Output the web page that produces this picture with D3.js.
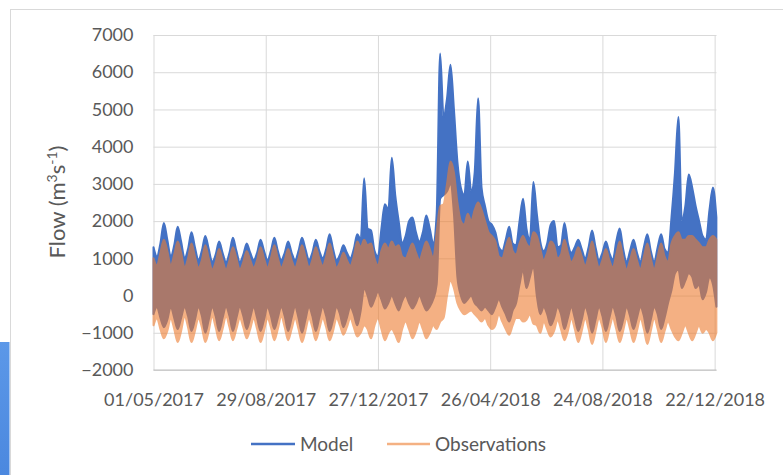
<!DOCTYPE html>
<html>
<head>
<meta charset="utf-8">
<script src="https://cdn.jsdelivr.net/npm/d3@7"></script>
<style>
  html, body { margin: 0; padding: 0; background: #ffffff; }
  svg { display: block; }
  text { font-family: Lato, "Open Sans", "DejaVu Sans", sans-serif; fill: #595959; }
</style>
</head>
<body>
<svg id="chart" width="783" height="475"></svg>
<script>
// Tidal flow: per-sample envelope (max / min) of the hourly series,
// one sample every quarter spring–neap cycle starting 01/05/2017.
const startDate = "2017-05-01";
const endDate = "2018-12-24";
const sampleStepDays = 3.6925;

const modelHigh = [
  1300,1050,1400,1950,1500,1050,1350,1850,1450,1000,
  1250,1700,1300,950,1200,1600,1250,900,1100,1450,
  1150,900,1150,1550,1200,900,1100,1400,1150,950,
  1150,1500,1200,950,1200,1550,1200,950,1150,1450,
  1150,950,1200,1550,1250,950,1150,1500,1200,1000,
  1250,1650,1250,950,1100,1350,1150,1000,1250,1650,
  1500,3150,1800,1750,1200,1050,1800,2450,2300,3700,
  2700,2000,1400,1600,2000,2100,1700,1450,1700,2150,
  1800,1400,2200,6500,4800,5300,6200,5000,3600,2900,
  2700,3600,2800,3300,5300,2900,2400,2000,1900,1700,
  1300,1200,1500,1850,1400,1350,2000,2600,1800,1500,
  3050,2200,1450,1200,1400,1900,2000,1300,1350,1950,
  1400,1150,1300,1500,1250,1000,1300,1750,1300,950,
  1150,1450,1150,950,1450,1800,1250,900,1200,1500,
  1150,900,1300,1650,1200,900,1300,1650,1250,1150,
  2100,3300,4800,2000,2400,3250,2900,2400,2000,1600,
  1500,2300,2900,2100
];

const modelLow = [
  -500,-300,-600,-850,-650,-300,-600,-900,-600,-300,
  -550,-950,-650,-300,-550,-1000,-650,-300,-550,-950,
  -600,-300,-550,-950,-600,-300,-550,-900,-600,-300,
  -600,-950,-650,-300,-550,-900,-600,-300,-550,-950,
  -600,-300,-600,-1000,-650,-300,-550,-950,-600,-300,
  -550,-950,-650,-300,-500,-850,-600,-300,-500,-800,
  -400,200,0,-300,-100,100,-100,-350,-200,0,
  -200,-400,-150,0,-200,-350,-200,0,-200,-400,
  -300,-100,300,2600,2700,2800,3000,2200,500,0,
  -200,-100,0,-200,-300,-400,-300,-400,-500,-300,
  -100,-300,-500,-700,-400,-200,300,700,200,500,
  800,0,-500,-300,-500,-800,-600,-300,-500,-900,
  -600,-300,-600,-950,-650,-300,-550,-1000,-650,-300,
  -550,-950,-600,-300,-550,-950,-650,-300,-550,-900,
  -600,-300,-550,-1000,-650,-300,-500,-900,-600,-200,
  150,600,700,200,400,600,500,200,300,-100,
  100,500,300,-300
];

const obsHigh = [
  1000,800,1150,1500,1200,800,1100,1450,1150,750,
  1000,1400,1050,750,950,1350,1000,700,900,1250,
  950,700,950,1300,1000,700,900,1200,950,750,
  950,1300,1000,750,1000,1350,1000,750,950,1250,
  950,750,1000,1350,1050,750,950,1300,1000,800,
  1050,1400,1050,750,900,1150,950,800,1050,1450,
  1300,1500,1350,1400,1000,800,1200,1400,1250,1450,
  1300,1350,1050,1000,1200,1400,1150,950,1200,1450,
  1250,1000,1700,2400,2450,3000,3600,3300,2500,2000,
  1900,2200,2000,2300,2500,2300,2000,1700,1600,1450,
  1050,1000,1300,1550,1200,1100,1400,1600,1400,1300,
  1700,1600,1250,950,1150,1450,1350,1000,1100,1500,
  1150,900,1050,1300,1050,800,1050,1450,1050,750,
  950,1250,950,750,1100,1450,1000,700,950,1250,
  950,700,1050,1400,1000,700,1050,1400,1050,900,
  1400,1600,1700,1500,1500,1600,1600,1500,1400,1300,
  1300,1500,1600,1500
];

const obsLow = [
  -800,-600,-900,-1150,-950,-600,-900,-1250,-950,-550,
  -850,-1250,-950,-600,-850,-1250,-950,-550,-850,-1200,
  -900,-550,-850,-1200,-900,-600,-850,-1150,-900,-600,
  -900,-1250,-950,-600,-850,-1200,-900,-550,-850,-1200,
  -900,-600,-900,-1250,-950,-600,-850,-1200,-900,-600,
  -850,-1200,-950,-600,-800,-1050,-850,-600,-850,-1100,
  -1000,-800,-900,-1150,-800,-600,-900,-1200,-1000,-900,
  -1050,-1250,-900,-700,-900,-1150,-950,-700,-900,-1150,
  -1000,-800,-900,-700,-600,0,400,200,-200,-400,
  -500,-450,-400,-500,-600,-700,-600,-800,-900,-800,
  -500,-700,-900,-1050,-800,-600,-600,-700,-650,-500,
  -750,-800,-1000,-700,-900,-1100,-950,-650,-900,-1200,
  -950,-600,-900,-1250,-950,-600,-900,-1300,-950,-600,
  -850,-1250,-900,-600,-900,-1250,-950,-600,-900,-1250,
  -950,-600,-900,-1300,-950,-600,-900,-1250,-950,-700,
  -900,-1100,-1200,-1000,-800,-1000,-1200,-1000,-800,-1000,
  -900,-1000,-1200,-1000
];

const seriesNames = ["Model", "Observations"];
const seriesColors = ["#4472C4", "#ED7D31"];
const xTickDates = ["2017-05-01", "2017-08-29", "2017-12-27", "2018-04-26", "2018-08-24", "2018-12-22"];
const yTickValues = [-2000, -1000, 0, 1000, 2000, 3000, 4000, 5000, 6000, 7000];

const parseDate = d3.utcParse("%Y-%m-%d");
const formatDate = d3.utcFormat("%d/%m/%Y");
const dayMs = 86400000;
const t0 = parseDate(startDate).getTime();

const samples = modelHigh.map((v, i) => ({
  date: new Date(t0 + i * sampleStepDays * dayMs),
  mHi: v, mLo: modelLow[i], oHi: obsHigh[i], oLo: obsLow[i]
}));

const svg = d3.select("#chart");
const plot = { left: 153.5, right: 716.5, top: 35, bottom: 370 };

const x = d3.scaleUtc()
  .domain([parseDate(startDate), parseDate(endDate)])
  .range([plot.left, plot.right]);
const y = d3.scaleLinear()
  .domain([-2000, 7000])
  .range([plot.bottom, plot.top]);

// decoration at the lower left corner and the chart frame
const defs = svg.append("defs");
const grad = defs.append("linearGradient").attr("id", "edgeBlue")
  .attr("x1", 0).attr("y1", 0).attr("x2", 0).attr("y2", 1);
grad.append("stop").attr("offset", 0).attr("stop-color", "#5c98e8");
grad.append("stop").attr("offset", 1).attr("stop-color", "#4b88df");
svg.append("rect").attr("x", 0).attr("y", 342).attr("width", 9.5).attr("height", 133)
  .attr("fill", "url(#edgeBlue)");
svg.append("rect").attr("x", 10.5).attr("y", 9.5).attr("width", 800).attr("height", 500)
  .attr("fill", "#ffffff").attr("stroke", "#d9d9d9").attr("stroke-width", 1);

// gridlines and axes
const yAxis = d3.axisLeft(y)
  .tickValues(yTickValues)
  .tickSize(-(plot.right - plot.left))
  .tickPadding(20)
  .tickFormat(d3.format("d"));
const gy = svg.append("g").attr("transform", `translate(${plot.left},0)`).call(yAxis);
gy.select(".domain").remove();
gy.selectAll(".tick line").attr("stroke", "#d9d9d9").attr("stroke-width", 1);
gy.selectAll(".tick text").attr("font-size", 18).attr("fill", "#595959");

const xAxis = d3.axisBottom(x)
  .tickValues(xTickDates.map(parseDate))
  .tickSize(-(plot.bottom - plot.top))
  .tickPadding(23)
  .tickFormat(formatDate);
const gx = svg.append("g").attr("transform", `translate(0,${plot.bottom})`).call(xAxis);
gx.select(".domain").remove();
gx.selectAll(".tick line").attr("stroke", "#d9d9d9").attr("stroke-width", 1);
gx.selectAll(".tick text").attr("font-size", 18).attr("fill", "#595959");

svg.append("line")
  .attr("x1", plot.left).attr("x2", plot.right)
  .attr("y1", y(-2000)).attr("y2", y(-2000))
  .attr("stroke", "#bfbfbf").attr("stroke-width", 1);

// series bands
const modelArea = d3.area()
  .x(d => x(d.date)).y0(d => y(d.mLo)).y1(d => y(d.mHi))
  .curve(d3.curveMonotoneX);
const obsArea = d3.area()
  .x(d => x(d.date)).y0(d => y(d.oLo)).y1(d => y(d.oHi))
  .curve(d3.curveMonotoneX);

svg.append("g").append("path")
  .datum(samples)
  .attr("d", modelArea)
  .attr("fill", seriesColors[0])
  .attr("stroke", seriesColors[0])
  .attr("stroke-width", 2)
  .attr("stroke-linejoin", "round");

svg.append("g").attr("opacity", 0.6).append("path")
  .datum(samples)
  .attr("d", obsArea)
  .attr("fill", seriesColors[1])
  .attr("stroke", seriesColors[1])
  .attr("stroke-width", 2)
  .attr("stroke-linejoin", "round");

// axis title
const title = svg.append("text")
  .attr("transform", "translate(65,202) rotate(-90)")
  .attr("text-anchor", "middle")
  .attr("font-size", 22)
  .attr("fill", "#595959");
title.append("tspan").text("Flow (m");
title.append("tspan").attr("font-size", 14).attr("dy", -8).text("3");
title.append("tspan").attr("dy", 8).text("s");
title.append("tspan").attr("font-size", 14).attr("dy", -8).text("-1");
title.append("tspan").attr("dy", 8).text(")");

// legend
const legendItems = [
  { name: seriesNames[0], color: seriesColors[0], opacity: 1, x1: 251, x2: 295, tx: 300 },
  { name: seriesNames[1], color: seriesColors[1], opacity: 0.6, x1: 387, x2: 430, tx: 435 }
];
const lg = svg.append("g");
legendItems.forEach(it => {
  lg.append("line")
    .attr("x1", it.x1).attr("x2", it.x2).attr("y1", 444).attr("y2", 444)
    .attr("stroke", it.color).attr("stroke-opacity", it.opacity).attr("stroke-width", 2.5);
  lg.append("text")
    .attr("x", it.tx).attr("y", 444).attr("dy", "0.35em")
    .attr("font-size", 19).attr("fill", "#595959")
    .text(it.name);
});
</script>
</body>
</html>
